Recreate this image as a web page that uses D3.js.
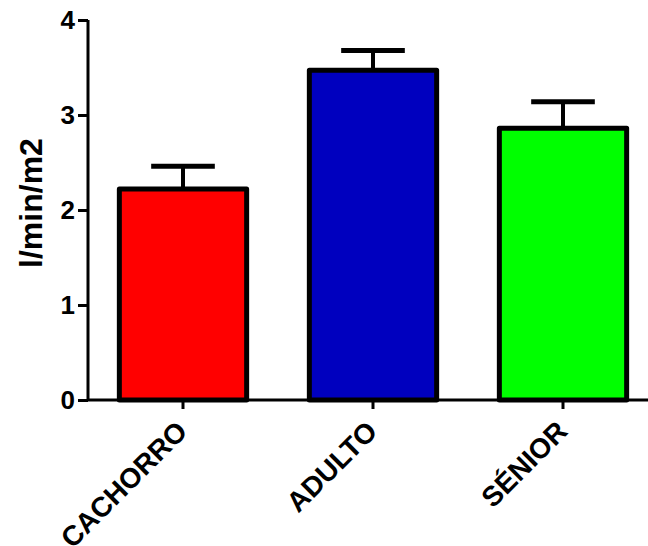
<!DOCTYPE html>
<html>
<head>
<meta charset="utf-8">
<script src="https://cdn.jsdelivr.net/npm/d3@7"></script>
<style>
  body { margin: 0; background: #fff; }
  text { font-family: "Liberation Sans", Arial, sans-serif; font-weight: bold; }
</style>
</head>
<body>
<div id="chart"></div>
<script>
var categories = ['CACHORRO', 'ADULTO', 'SÉNIOR'];
var means = [2.22, 3.47, 2.86];
var errors = [0.24, 0.21, 0.28];
var colors = ['#FF0000', '#0000BF', '#00FF00'];
var yTicks = [0, 1, 2, 3, 4];

var width = 648, height = 546;
var margin = {left: 88, top: 20, bottom: 146};

var svg = d3.select('#chart').append('svg')
    .attr('width', width)
    .attr('height', height);

var x = d3.scaleBand()
    .domain(categories)
    .range([margin.left, 658])
    .paddingInner(0.33)
    .paddingOuter(0.165);

var y = d3.scaleLinear()
    .domain([0, 4])
    .range([height - margin.bottom, margin.top]);

var data = categories.map(function (c, i) {
    return {label: c, value: means[i], err: errors[i], color: colors[i]};
});

// error bars (drawn first so bar outline covers the stem)
var eb = svg.selectAll('.err')
    .data(data)
    .enter()
    .append('g')
    .attr('class', 'err');

eb.append('line')
    .attr('x1', function (d) { return x(d.label) + x.bandwidth() / 2; })
    .attr('x2', function (d) { return x(d.label) + x.bandwidth() / 2; })
    .attr('y1', function (d) { return y(d.value); })
    .attr('y2', function (d) { return y(d.value + d.err); })
    .attr('stroke', '#000')
    .attr('stroke-width', 4);

eb.append('line')
    .attr('x1', function (d) { return x(d.label) + x.bandwidth() / 4; })
    .attr('x2', function (d) { return x(d.label) + x.bandwidth() * 3 / 4; })
    .attr('y1', function (d) { return y(d.value + d.err); })
    .attr('y2', function (d) { return y(d.value + d.err); })
    .attr('stroke', '#000')
    .attr('stroke-width', 5);

// bars
svg.selectAll('.bar')
    .data(data)
    .enter()
    .append('rect')
    .attr('class', 'bar')
    .attr('x', function (d) { return x(d.label); })
    .attr('y', function (d) { return y(d.value); })
    .attr('width', x.bandwidth())
    .attr('height', function (d) { return y(0) - y(d.value); })
    .attr('fill', function (d) { return d.color; })
    .attr('stroke', '#000')
    .attr('stroke-width', 5)
    .attr('stroke-linejoin', 'round');

// y axis
var yAxis = svg.append('g')
    .attr('transform', 'translate(' + margin.left + ',0)')
    .call(d3.axisLeft(y).tickValues(yTicks).tickFormat(d3.format('d')).tickSize(10).tickPadding(3));
yAxis.select('.domain').attr('stroke-width', 3).attr('d', 'M0,' + y(4) + 'V' + y(0));
yAxis.selectAll('.tick line').attr('stroke-width', 3);
yAxis.selectAll('.tick text').style('font-size', '26px').attr('fill', '#000');

// x axis
var xAxis = svg.append('g')
    .attr('transform', 'translate(0,' + y(0) + ')')
    .call(d3.axisBottom(x).tickSize(9).tickPadding(6));
xAxis.select('.domain').attr('stroke-width', 3).attr('d', 'M' + margin.left + ',0H' + 658);
xAxis.selectAll('.tick line').attr('stroke-width', 3);
xAxis.selectAll('.tick text')
    .style('font-size', '28px')
    .attr('fill', '#000')
    .attr('text-anchor', 'end')
    .attr('x', 0)
    .attr('y', 0)
    .attr('dy', 0)
    .attr('transform', 'translate(6,33) rotate(-45)');

// y label
svg.append('text')
    .attr('transform', 'translate(42,' + 203 + ') rotate(-90)')
    .attr('text-anchor', 'middle')
    .style('font-size', '32px')
    .text('l/min/m2');
</script>
</body>
</html>
